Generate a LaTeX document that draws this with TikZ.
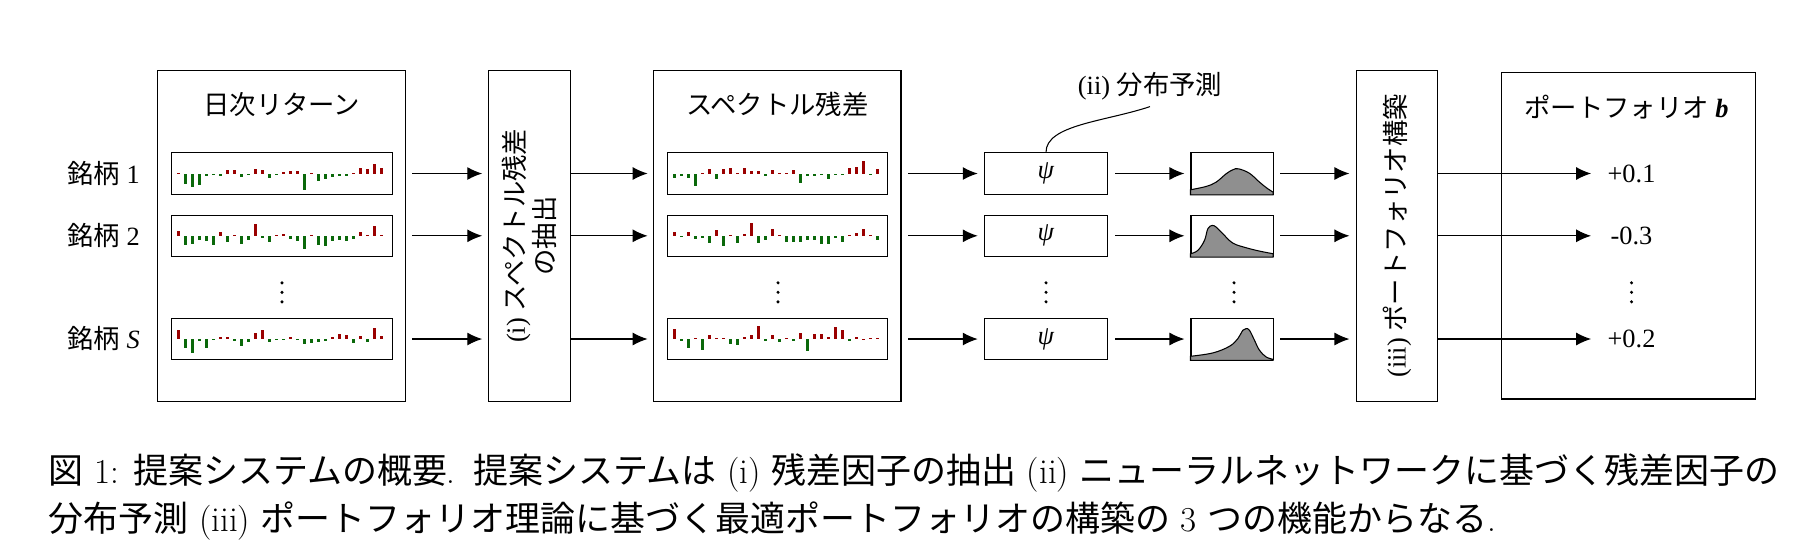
\documentclass[tikz,border=0pt]{standalone}
\usepackage{fontspec}
\usepackage{tikz}
\usetikzlibrary{arrows.meta,positioning,calc}
\newfontfamily\tmfont{Liberation Serif}
\newfontfamily\jp{Noto Sans CJK JP}
\definecolor{BarUp}{HTML}{9A0000}
\definecolor{BarDown}{HTML}{0A680A}
\definecolor{DistGray}{HTML}{8F8F8F}
\tikzset{
  panel/.style={draw,line width=0.6pt,minimum height=6.61cm,inner sep=0pt},
  spark/.style={draw,line width=0.6pt,minimum width=4.41cm,minimum height=0.83cm,inner sep=0pt},
  cell/.style={draw,line width=0.6pt,minimum height=0.83cm,inner sep=0pt},
  flow/.style={-{Latex[length=0.3cm,width=0.26cm]},line width=0.7pt},
  vlabel/.style={rotate=90,align=center,font={\tmfont\fontsize{15}{11.5}\selectfont}},
  caption/.style={anchor=west,inner sep=0pt,font={\rmfamily\fontsize{19.9}{24}\selectfont}}
}
% bars of one return series, drawn inside a spark box
\newcommand{\sparkbars}[2]{%
  \foreach \v [count=\i] in {#2}{%
    \ifdim \v pt>0pt \def\barcol{BarUp}\else\def\barcol{BarDown}\fi
    \pgfmathsetmacro\bx{0.12+0.14*(\i-1)}
    \fill[\barcol] ($(#1.west)+(\bx,0)$) rectangle ++(0.06,\v);
  }}
% predicted density inside a cell
\newcommand{\density}[2]{%
  \begin{scope}[shift={(#1.south west)}]
    \draw[fill=DistGray,line width=0.6pt] (0,0) -- plot[smooth,tension=0.6] coordinates {#2} -- (1.654,0) -- cycle;
  \end{scope}}

\begin{document}
\begin{tikzpicture}[font={\tmfont\fontsize{15}{18}\selectfont},>=Latex]
\useasboundingbox (0,0) rectangle (36.2,-11.16);

% daily returns
\node[panel,minimum width=4.96cm] (ret) at (5.634,-4.717) {};
\node (rettitle) at ($(ret.north)+(0,-0.69)$) {\jp 日次リターン};
\node[spark] (a1) at (5.64,-3.47) {};
\node[spark] (a2) at (5.64,-4.716) {};
\node[spark] (aS) at (5.64,-6.78) {};
\node[left=0.62cm of a1,inner sep=0pt] (n1) {{\jp 銘柄} 1};
\node[left=0.62cm of a2,inner sep=0pt] (n2) {{\jp 銘柄} 2};
\node[left=0.62cm of aS,inner sep=0pt] (nS) {{\jp 銘柄} \textit{S}};
\sparkbars{a1}{0.01,-0.2,-0.27,-0.22,-0.05,-0.01,-0.05,0.07,0.08,-0.07,-0.01,0.1,0.07,-0.08,-0.03,0.04,0.05,0.05,-0.32,0.01,-0.15,-0.11,-0.07,-0.05,-0.05,0.01,0.12,0.1,0.19,0.11}
\sparkbars{a2}{0.1,-0.19,-0.17,-0.09,-0.1,-0.18,0.08,-0.12,0.02,-0.17,-0.09,0.23,-0.05,-0.12,0.02,0.035,-0.06,-0.1,-0.27,0.01,-0.18,-0.2,-0.1,-0.09,-0.1,-0.07,0.07,0.02,0.2,0.01}
\sparkbars{aS}{0.19,-0.18,-0.28,-0.03,-0.18,-0.015,0.05,0.05,-0.03,-0.13,-0.06,0.12,0.19,-0.06,-0.01,-0.01,0.05,-0.02,-0.1,-0.07,-0.05,-0.03,0.05,0.11,0.09,-0.07,0.07,-0.05,0.22,0.07}

% (i) extraction
\node[panel,minimum width=1.648cm] (ext) at (10.59,-4.717) {};
\node[vlabel] (extlbl) at (ext) {(i) {\jp スペクトル残差}\\{\jp の抽出}};

% spectral residuals
\node[panel,minimum width=4.946cm] (res) at (15.547,-4.717) {};
\node (restitle) at ($(res.north)+(0,-0.69)$) {\jp スペクトル残差};
\node[spark] (b1) at (15.55,-3.47) {};
\node[spark] (b2) at (15.55,-4.716) {};
\node[spark] (bS) at (15.55,-6.78) {};
\sparkbars{b1}{-0.08,-0.05,-0.09,-0.25,0.01,0.09,-0.11,0.09,0.11,0.01,0.12,0.05,0.05,-0.05,0.07,0.005,0.02,0.08,-0.19,-0.05,-0.05,-0.015,-0.11,-0.015,-0.03,0.11,0.13,0.25,-0.015,0.09}
\sparkbars{b2}{0.07,-0.02,0.07,-0.06,-0.05,-0.15,0.11,-0.21,0.02,-0.15,0.03,0.25,-0.15,-0.09,0.13,0.01,-0.13,-0.13,-0.13,-0.08,-0.09,-0.17,-0.17,-0.04,-0.12,0.01,0.05,0.13,0.01,-0.08}
\sparkbars{bS}{0.2,-0.04,-0.17,0.03,-0.22,0.09,0.03,0.03,-0.09,-0.11,0.05,0.08,0.26,-0.03,0.09,-0.05,0.02,-0.04,0.13,-0.24,0.11,0.11,0.05,0.25,0.18,-0.03,0.04,0.01,0.02,0.02}

% (ii) distribution prediction
\node[cell,minimum width=2.468cm] (p1) at (20.92,-3.47) {\textit{ψ}};
\node[cell,minimum width=2.468cm] (p2) at (20.92,-4.716) {\textit{ψ}};
\node[cell,minimum width=2.468cm] (pS) at (20.92,-6.78) {\textit{ψ}};
\node (pred) at (23.0,-1.73) {(ii) {\jp 分布予測}};
\draw[line width=0.6pt] (p1.north) .. controls +(0,0.55) and +(-0.9,-0.3) .. (pred.south);
\node[cell,minimum width=1.654cm] (d1) at (24.647,-3.47) {};
\node[cell,minimum width=1.654cm] (d2) at (24.647,-4.716) {};
\node[cell,minimum width=1.654cm] (dS) at (24.647,-6.78) {};
\density{d1}{(0,0.1) (0.313,0.167) (0.513,0.253) (0.713,0.42) (0.847,0.5) (0.96,0.52) (1.18,0.43) (1.38,0.253) (1.547,0.12) (1.653,0.053)}
\density{d2}{(0,0.067) (0.147,0.133) (0.28,0.333) (0.347,0.567) (0.433,0.633) (0.513,0.6) (0.647,0.467) (0.847,0.28) (1.113,0.187) (1.38,0.12) (1.653,0.067)}
\density{dS}{(0,0.08) (0.447,0.147) (0.78,0.28) (0.947,0.433) (1.047,0.6) (1.113,0.633) (1.18,0.6) (1.28,0.4) (1.38,0.2) (1.513,0.067) (1.653,0.02)}

% (iii) portfolio construction
\node[panel,minimum width=1.624cm] (opt) at (27.942,-4.717) {};
\node[vlabel] (optlbl) at (opt) {(iii) {\jp ポートフォリオ構築}};
\node[draw,line width=0.6pt,minimum width=5.08cm,minimum height=6.534cm,inner sep=0pt] (port) at (32.574,-4.713) {};
\node (porttitle) at (32.53,-2.134) {{\jp ポートフォリオ} \textbf{\textit{b}}};
\node[minimum width=1.4cm] (v1) at (32.63,-3.47) {+0.1};
\node[minimum width=1.4cm] (v2) at (32.63,-4.716) {-0.3};
\node[minimum width=1.4cm] (vS) at (32.63,-6.78) {+0.2};

% vertical ellipses between row 2 and row S
\foreach \x in {5.64,15.56,20.92,24.68,32.63}
  \foreach \dy in {-0.19,0,0.19}
    \fill (\x,-5.846+\dy) circle (0.034);

\foreach \r in {1,2,S}{
  \draw[flow,shorten <=0.12cm,shorten >=0.11cm] (ret.east |- a\r) -- (ext.west |- a\r);
  \draw[flow,shorten >=0.11cm] (ext.east |- b\r) -- (res.west |- b\r);
  \draw[flow,shorten <=0.13cm,shorten >=0.12cm] (res.east |- p\r) -- (p\r.west);
  \draw[flow,shorten <=0.14cm,shorten >=0.12cm] (p\r) -- (d\r);
  \draw[flow,shorten <=0.12cm,shorten >=0.13cm] (d\r) -- (opt.west |- d\r);
  \draw[flow,shorten >=0.1cm] (opt.east |- v\r) -- (v\r.west);
}

% caption
\node[caption] (cap1) at (0.97,-9.46) {{\jp 図} 1: {\jp 提案システムの概要}.\enskip{\jp 提案システムは} (i) {\jp 残差因子の抽出} (ii) {\jp ニューラルネットワークに基づく残差因子の}};
\node[caption] (cap2) at (0.97,-10.42) {{\jp 分布予測} (iii) {\jp ポートフォリオ理論に基づく最適ポートフォリオの構築の} 3 {\jp つの機能からなる}.};
\end{tikzpicture}
\end{document}
